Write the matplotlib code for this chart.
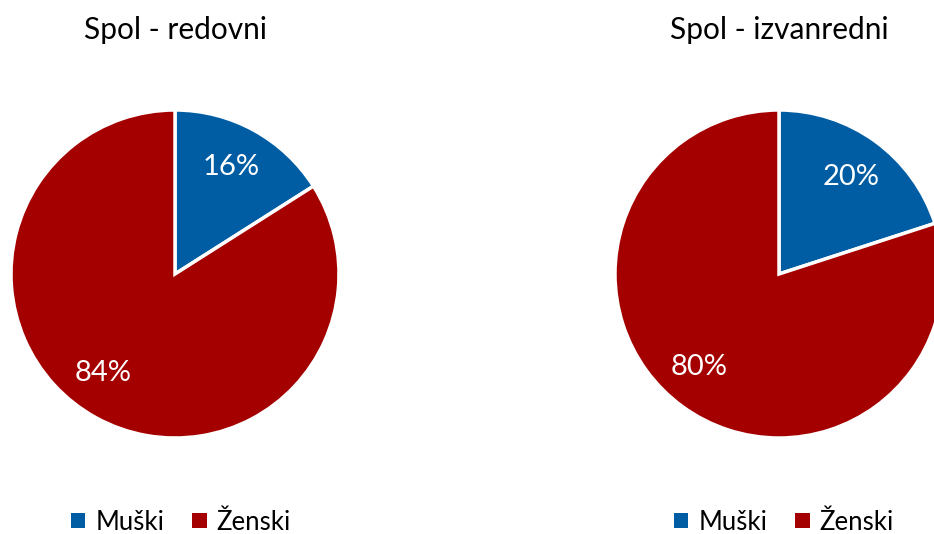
import matplotlib
matplotlib.use("Agg")
import matplotlib.pyplot as plt
from matplotlib.patches import Patch

plt.rcParams['font.family'] = ['Lato', 'DejaVu Sans']

categories = ["Muški", "Ženski"]
titles = ["Spol - redovni", "Spol - izvanredni"]
redovni = [16, 84]
izvanredni = [20, 80]
colors = ["#005DA3", "#A50000"]

W, H = 934, 534
fig = plt.figure(figsize=(W / 100, H / 100), dpi=100)

def add_pie(cx, cy, r, values, title, leg_x, label_pos):
    ax = fig.add_axes([(cx - r) / W, (H - cy - r) / H, 2 * r / W, 2 * r / H])
    wedges, texts, autotexts = ax.pie(
        values, colors=colors, startangle=90, counterclock=False,
        autopct=lambda p: f"{p:.0f}%", pctdistance=0.74, radius=1,
        wedgeprops=dict(edgecolor="white", linewidth=2.5),
        textprops=dict(color="white", fontsize=21))
    for t, pos in zip(autotexts, label_pos):
        t.set_position(pos)
    ax.set_xlim(-1, 1)
    ax.set_ylim(-1, 1)
    ax.set_aspect("equal")
    ax.axis("off")
    fig.text(cx / W, 1 - 30 / H, title, ha="center", va="center", fontsize=21.5)
    handles = [Patch(facecolor=c, edgecolor="none") for c in colors]
    fig.legend(handles, categories, loc="center", bbox_to_anchor=(leg_x / W, 1 - 522 / H),
               ncol=2, frameon=False, fontsize=18.5, handlelength=0.55, handleheight=0.55,
               handletextpad=0.4, columnspacing=1.1)

add_pie(175, 274, 164, redovni, titles[0], 181, [(0.344, 0.65), (-0.44, -0.605)])
add_pie(779, 274, 164, izvanredni, titles[1], 784, [(0.442, 0.59), (-0.49, -0.57)])

fig.savefig("out.png", dpi=100)
